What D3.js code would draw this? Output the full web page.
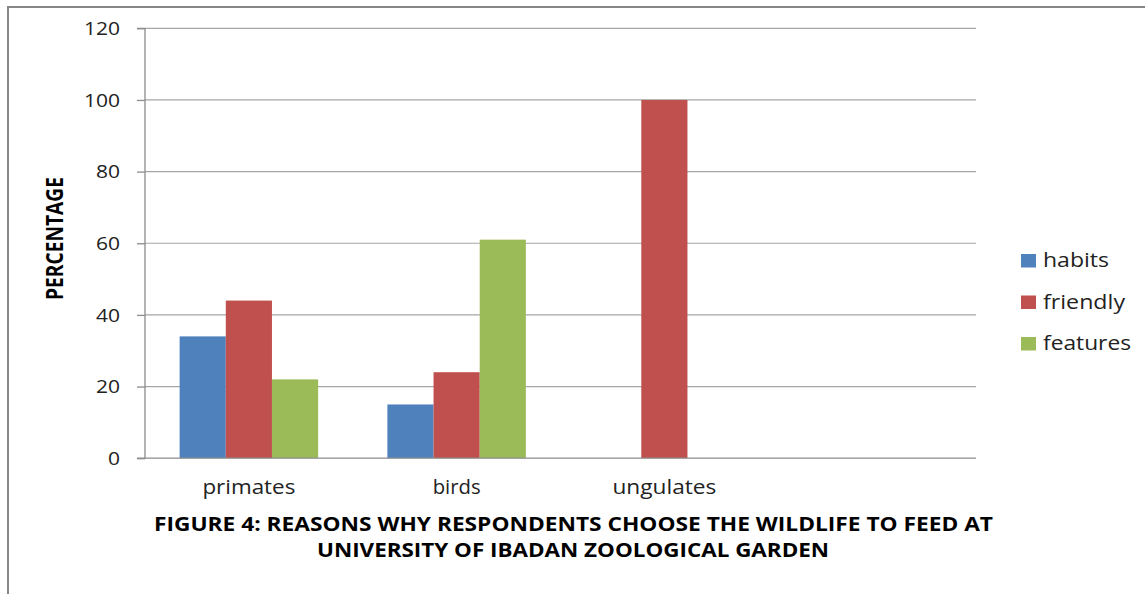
<!DOCTYPE html>
<html><head><meta charset="utf-8">
<script src="https://cdn.jsdelivr.net/npm/d3@7"></script>
<style>
html,body{margin:0;padding:0;background:#fff;}
svg{display:block;}
text{font-family:"Open Sans","Liberation Sans",sans-serif;}
</style></head>
<body>
<svg id="chart" width="1145" height="594"></svg>
<script>
// ---- data ----
const categories = ["primates", "birds", "ungulates", ""];
const seriesNames = ["habits", "friendly", "features"];
const habits   = [34, 15, null, null];
const friendly = [44, 24, 100, null];
const features = [22, 61, null, null];
const yTicks = [0, 20, 40, 60, 80, 100, 120];
const colors = ["#4F81BD", "#C0504D", "#9BBB59"];
const yTitle = "PERCENTAGE";
const caption = ["FIGURE 4: REASONS WHY RESPONDENTS CHOOSE THE WILDLIFE TO FEED AT",
                 "UNIVERSITY OF IBADAN ZOOLOGICAL GARDEN"];

const seriesValues = [habits, friendly, features];

// ---- layout ----
const svg = d3.select("#chart");
const plot = {left: 145, right: 976, top: 28.3, bottom: 458.2};
const HS = 1.2; // horizontal glyph stretch seen in the reference
const xLabelWidth = {primates: 93, birds: 48, ungulates: 104};
const legendWidth = [66, 82, 88];

function stretch(sel, factor) {
  sel.each(function() {
    const L = this.getComputedTextLength();
    if (L > 0) d3.select(this).attr("textLength", L * factor).attr("lengthAdjust", "spacingAndGlyphs");
  });
}

// outer frame
svg.append("rect").attr("x", 8).attr("y", 7).attr("width", 1160).attr("height", 620)
  .attr("fill", "none").attr("stroke", "#878787").attr("stroke-width", 2);

const x = d3.scaleBand().domain(categories.map((c, i) => i)).range([plot.left, plot.right]).paddingInner(0).paddingOuter(0);
const xs = d3.scaleBand().domain(seriesNames).range([0, x.bandwidth()]).paddingInner(0).paddingOuter(0.75);
const y = d3.scaleLinear().domain([0, 120]).range([plot.bottom, plot.top]);

// gridlines
svg.append("g").selectAll("line").data(yTicks.filter(t => t > 0)).join("line")
  .attr("x1", plot.left).attr("x2", plot.right)
  .attr("y1", d => y(d)).attr("y2", d => y(d))
  .attr("stroke", "#a6a6a6").attr("stroke-width", 1.2);

// bars
seriesNames.forEach((s, si) => {
  svg.append("g").selectAll("rect")
    .data(seriesValues[si].map((v, i) => ({v, i})).filter(d => d.v != null))
    .join("rect")
    .attr("x", d => x(d.i) + xs(s))
    .attr("width", xs.bandwidth())
    .attr("y", d => y(d.v))
    .attr("height", d => y(0) - y(d.v))
    .attr("fill", colors[si]);
});

// y axis
const yAxis = d3.axisLeft(y).tickValues(yTicks).tickSize(8).tickPadding(17).tickFormat(d3.format("d"));
const ga = svg.append("g").attr("transform", `translate(${plot.left},0)`).call(yAxis);
ga.select(".domain").attr("stroke", "#8c8c8c").attr("stroke-width", 1.3).attr("d", `M-8,${plot.top}H0V${plot.bottom}H-8`);
ga.selectAll(".tick line").attr("stroke", "#8c8c8c").attr("stroke-width", 1.3);
ga.selectAll(".tick text").attr("font-size", 17.5).attr("fill", "#222")
  .attr("font-family", "'Open Sans', sans-serif").attr("dy", "0.36em");
stretch(ga.selectAll(".tick text"), HS);

// x axis
const xAxis = d3.axisBottom(x).tickSize(0).tickPadding(20).tickFormat(i => categories[i]);
const gx = svg.append("g").attr("transform", `translate(0,${plot.bottom})`).call(xAxis);
gx.select(".domain").attr("stroke", "#8c8c8c").attr("stroke-width", 1.3).attr("d", `M${plot.left},0H${plot.right}`);
gx.selectAll(".tick text").attr("font-size", 19.5).attr("fill", "#222")
  .attr("font-family", "'Open Sans', sans-serif").attr("y", 36).attr("dy", 0);
gx.selectAll(".tick text").each(function(i) {
  const w = xLabelWidth[categories[i]];
  if (w) d3.select(this).attr("textLength", w).attr("lengthAdjust", "spacingAndGlyphs");
});

// y title
const yt = svg.append("text").attr("transform", "translate(63,238.5) rotate(-90)")
  .attr("text-anchor", "middle").attr("font-size", 23).attr("font-weight", "bold")
  .attr("fill", "#000").text(yTitle);
stretch(yt, 1 / HS);

// legend
const legend = svg.append("g");
seriesNames.forEach((s, i) => {
  const cy = 261 + i * 41.5;
  legend.append("rect").attr("x", 1021).attr("y", cy - 7).attr("width", 15).attr("height", 13.5).attr("fill", colors[i]);
  legend.append("text").attr("x", 1043).attr("y", cy + 6).attr("font-size", 19.5).attr("fill", "#222")
    .attr("textLength", legendWidth[i]).attr("lengthAdjust", "spacingAndGlyphs")
    .text(s);
});

// caption
svg.append("text").attr("x", 573.5).attr("y", 530.5).attr("text-anchor", "middle")
  .attr("font-size", 20).attr("font-weight", "bold").attr("fill", "#000")
  .attr("textLength", 839).attr("lengthAdjust", "spacingAndGlyphs").text(caption[0]);
svg.append("text").attr("x", 573).attr("y", 557).attr("text-anchor", "middle")
  .attr("font-size", 20).attr("font-weight", "bold").attr("fill", "#000")
  .attr("textLength", 512).attr("lengthAdjust", "spacingAndGlyphs").text(caption[1]);
</script>
</body></html>
